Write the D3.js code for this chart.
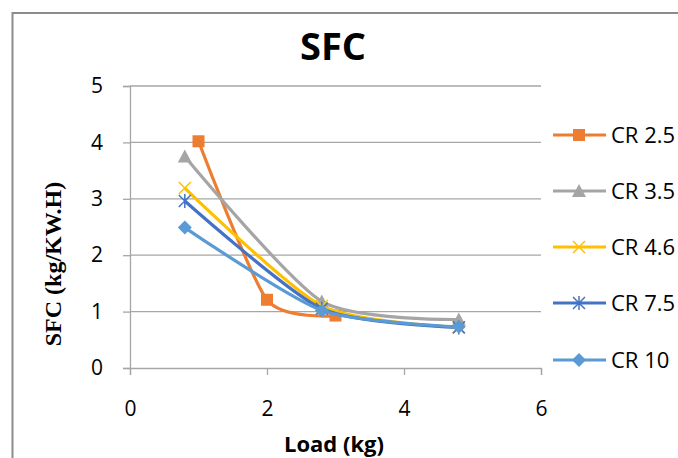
<!DOCTYPE html>
<html>
<head>
<meta charset="utf-8">
<script src="https://cdn.jsdelivr.net/npm/d3@7"></script>
<style>
  html, body { margin: 0; padding: 0; background: #fff; }
  svg { display: block; }
</style>
</head>
<body>
<svg id="chart" width="678" height="458"></svg>
<script>
// ---- data ----
const seriesNames = ["CR 2.5", "CR 3.5", "CR 4.6", "CR 7.5", "CR 10"];
const loadCR25 = [1, 2, 3];
const sfcCR25 = [4.02, 1.21, 0.93];
const loadOther = [0.8, 2.8, 4.8];
const sfcCR35 = [3.75, 1.18, 0.86];
const sfcCR46 = [3.19, 1.1, 0.72];
const sfcCR75 = [2.96, 1.05, 0.72];
const sfcCR10 = [2.49, 1.02, 0.73];
const xTicks = [0, 2, 4, 6];
const yTicks = [0, 1, 2, 3, 4, 5];
const colors = ["#ED7D31", "#A5A5A5", "#FFC000", "#4472C4", "#5B9BD5"];
const markers = ["square", "triangle", "x", "star", "diamond"];

const series = [
  { name: seriesNames[0], xs: loadCR25, ys: sfcCR25 },
  { name: seriesNames[1], xs: loadOther, ys: sfcCR35 },
  { name: seriesNames[2], xs: loadOther, ys: sfcCR46 },
  { name: seriesNames[3], xs: loadOther, ys: sfcCR75 },
  { name: seriesNames[4], xs: loadOther, ys: sfcCR10 }
].map((s, i) => ({ ...s, color: colors[i], marker: markers[i],
  pts: s.xs.map((x, j) => [x, s.ys[j]]) }));

const svg = d3.select("#chart");
const font = "'Open Sans', 'Liberation Sans', sans-serif";

// outer frame
svg.append("rect").attr("x", 12.5).attr("y", 13).attr("width", 700).attr("height", 500)
  .attr("fill", "none").attr("stroke", "#8c8c8c").attr("stroke-width", 2);

const x = d3.scaleLinear().domain([0, 6]).range([130, 541]);
const y = d3.scaleLinear().domain([0, 5]).range([368, 86]);

// gridlines
svg.append("g").selectAll("line").data(yTicks.filter(d => d > 0)).join("line")
  .attr("x1", x(0)).attr("x2", x(6))
  .attr("y1", d => y(d)).attr("y2", d => y(d))
  .attr("stroke", "#a6a6a6").attr("stroke-width", 1.3);

// y axis
const yAxis = svg.append("g").attr("transform", `translate(${x(0)},0)`)
  .call(d3.axisLeft(y).tickValues(yTicks).tickSize(7).tickPadding(20).tickFormat(d3.format("d")));
yAxis.select(".domain").attr("stroke", "#a6a6a6").attr("stroke-width", 1.3);
yAxis.selectAll(".tick line").attr("stroke", "#a6a6a6").attr("stroke-width", 1.3);
yAxis.selectAll("text").attr("font-family", font).attr("font-size", 21).attr("fill", "#000");

// x axis
const xAxis = svg.append("g").attr("transform", `translate(0,${y(0)})`)
  .call(d3.axisBottom(x).tickValues(xTicks).tickSize(7).tickPadding(26).tickFormat(d3.format("d")));
xAxis.select(".domain").attr("stroke", "#a6a6a6").attr("stroke-width", 1.3);
xAxis.selectAll(".tick line").attr("stroke", "#a6a6a6").attr("stroke-width", 1.3);
xAxis.selectAll("text").attr("font-family", font).attr("font-size", 21).attr("fill", "#000");

// title
svg.append("text").attr("x", 333).attr("y", 60).attr("text-anchor", "middle")
  .attr("font-family", font).attr("font-weight", "bold").attr("font-size", 38).text("SFC");

// axis titles
svg.append("text").attr("x", 334).attr("y", 452).attr("text-anchor", "middle")
  .attr("font-family", font).attr("font-weight", "bold").attr("font-size", 22).text("Load (kg)");
svg.append("text").attr("transform", "translate(61,264) rotate(-90)").attr("text-anchor", "middle")
  .attr("font-family", "'Liberation Serif', 'Times New Roman', serif").attr("font-weight", "bold")
  .attr("font-size", 24).text("SFC (kg/KW.H)");

// marker drawing
function drawMarker(g, type, color, cx, cy) {
  const s = 6;
  if (type === "square") {
    g.append("rect").attr("x", cx - s).attr("y", cy - s).attr("width", 2 * s).attr("height", 2 * s).attr("fill", color);
  } else if (type === "triangle") {
    g.append("path").attr("d", `M${cx},${cy - 7}L${cx + 7},${cy + 6}L${cx - 7},${cy + 6}Z`).attr("fill", color);
  } else if (type === "x") {
    g.append("path").attr("d", `M${cx - s},${cy - s}L${cx + s},${cy + s}M${cx - s},${cy + s}L${cx + s},${cy - s}`)
      .attr("stroke", color).attr("stroke-width", 1.5).attr("fill", "none");
  } else if (type === "star") {
    g.append("path").attr("d", `M${cx - s},${cy - s}L${cx + s},${cy + s}M${cx - s},${cy + s}L${cx + s},${cy - s}M${cx},${cy - 7}L${cx},${cy + 7}`)
      .attr("stroke", color).attr("stroke-width", 1.5).attr("fill", "none");
  } else if (type === "diamond") {
    g.append("path").attr("d", `M${cx},${cy - 7}L${cx + 7},${cy}L${cx},${cy + 7}L${cx - 7},${cy}Z`).attr("fill", color);
  }
}

const line = d3.line().x(d => x(d[0])).y(d => y(d[1])).curve(d3.curveCardinal.tension(0.3));

series.forEach(s => {
  const g = svg.append("g");
  g.append("path").attr("d", line(s.pts)).attr("fill", "none")
    .attr("stroke", s.color).attr("stroke-width", 3.2).attr("stroke-linejoin", "round");
  s.pts.forEach(p => drawMarker(g, s.marker, s.color, x(p[0]), y(p[1])));
});

// legend
const legY = [135, 191, 247, 303, 360];
series.forEach((s, i) => {
  const g = svg.append("g");
  g.append("line").attr("x1", 553).attr("x2", 606).attr("y1", legY[i]).attr("y2", legY[i])
    .attr("stroke", s.color).attr("stroke-width", 3.2);
  drawMarker(g, s.marker, s.color, 579, legY[i]);
  g.append("text").attr("x", 611).attr("y", legY[i] + 8).attr("font-family", font)
    .attr("font-size", 22).attr("fill", "#000").text(s.name);
});
</script>
</body>
</html>
